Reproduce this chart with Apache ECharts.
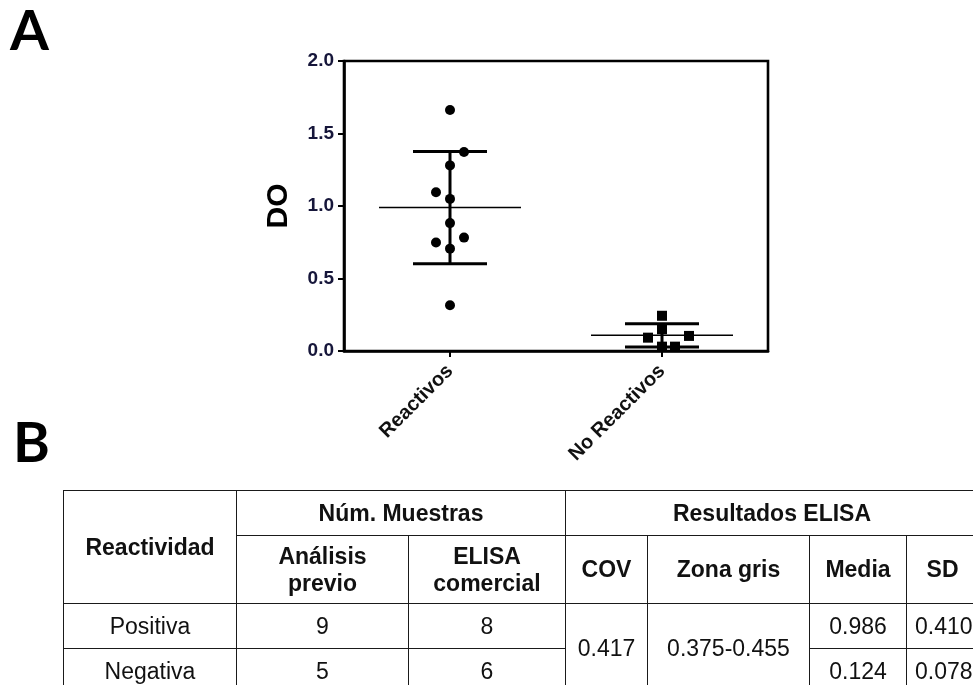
<!DOCTYPE html>
<html>
<head>
<meta charset="utf-8">
<script src="https://cdn.jsdelivr.net/npm/echarts@6/dist/echarts.min.js"></script>
<style>
  html, body { margin: 0; padding: 0; background: #fff; overflow: hidden; }
  #wrap { position: relative; width: 973px; height: 685px; overflow: hidden; }
  #chart { position: absolute; left: 0; top: 0; width: 973px; height: 685px; }
  #tbl {
    position: absolute; left: 63px; top: 490px; width: 915px;
    border-collapse: collapse; table-layout: fixed;
    font-family: "Liberation Sans", Arial, sans-serif; font-size: 23px; color: #111;
  }
  #tbl td, #tbl th {
    border: 1.6px solid #1a1a1a; text-align: center; vertical-align: middle;
    padding: 0; line-height: 1.15; white-space: nowrap; overflow: hidden;
  }
  #tbl th { font-weight: bold; }
</style>
</head>
<body>
<div id="wrap">
  <div id="chart"></div>
  <table id="tbl"></table>
</div>
<script>
// Optical density (DO) per sample group
const categories = ['Reactivos', 'No Reactivos'];
const reactivosDO = [1.662, 1.373, 1.280, 1.095, 1.049, 0.882, 0.782, 0.748, 0.706, 0.315];
const noReactivosDO = [0.243, 0.150, 0.092, 0.104, 0.030, 0.030];

// Horizontal spread (px) so overlapping dots stay visible
const reactivosSpread = [0, 14, 0, -14, 0, 0, 14, -14, 0, 0];
const noReactivosSpread = [0, 0, -14, 27, 0, 13];

// Y axis ticks
const yMin = 0, yMax = 2, yStep = 0.5;

// Summary table
const tableGroups = ['Positiva', 'Negativa'];
const muestrasPrevio = [9, 5];
const muestrasComercial = [8, 6];
const covValue = '0.417';
const zonaGris = '0.375-0.455';
const mediaValues = ['0.986', '0.124'];
const sdValues = ['0.410', '0.078'];

function mean(a) { return a.reduce((s, v) => s + v, 0) / a.length; }
function sd(a) {
  const m = mean(a);
  return Math.sqrt(a.reduce((s, v) => s + (v - m) * (v - m), 0) / (a.length - 1));
}

const groups = [reactivosDO, noReactivosDO];
const stats = groups.map((g, i) => [i, mean(g), sd(g)]);

const chart = echarts.init(document.getElementById('chart'));
const fontFam = '"Liberation Sans", Arial, sans-serif';

chart.setOption({
  animation: false,
  backgroundColor: '#fff',
  grid: {
    left: 344, top: 61, right: 205, bottom: 334,
    show: true, borderColor: '#000', borderWidth: 2.6, backgroundColor: 'transparent'
  },
  xAxis: {
    type: 'category',
    data: categories,
    boundaryGap: true,
    axisLine: { lineStyle: { color: '#000', width: 2.6 } },
    axisTick: { show: true, alignWithLabel: true, length: 6, lineStyle: { color: '#000', width: 2 } },
    axisLabel: {
      rotate: 45, margin: 17, interval: 0,
      fontFamily: fontFam, fontWeight: 'bold', fontSize: 20, color: '#111'
    },
    splitLine: { show: false }
  },
  yAxis: {
    type: 'value',
    min: yMin, max: yMax, interval: yStep,
    name: 'DO',
    nameLocation: 'middle',
    nameRotate: 90,
    nameGap: 50,
    nameTextStyle: { fontFamily: fontFam, fontWeight: 'bold', fontSize: 30, color: '#000' },
    axisLine: { show: true, lineStyle: { color: '#000', width: 2.6 } },
    axisTick: { show: true, length: 6, lineStyle: { color: '#000', width: 2 } },
    axisLabel: {
      margin: 10, formatter: v => v.toFixed(1),
      fontFamily: fontFam, fontWeight: 'bold', fontSize: 19, color: '#16163a'
    },
    splitLine: { show: false }
  },
  graphic: [
    { type: 'text', left: 10, top: 4, style: { text: 'A', font: 'bold 56px Lato, "Open Sans", sans-serif', fill: '#000' } },
    { type: 'text', left: 13, top: 416, style: { text: 'B', font: 'bold 56px Lato, "Open Sans", sans-serif', fill: '#000' } }
  ],
  series: [
    {
      type: 'custom',
      clip: false,
      encode: { x: 0, y: 1 },
      data: stats,
      renderItem: function (params, api) {
        const x = api.value(0), m = api.value(1), s = api.value(2);
        const c = api.coord([x, m]);
        const hi = api.coord([x, m + s]);
        const lo = api.coord([x, m - s]);
        const thick = { stroke: '#000', lineWidth: 3 };
        return {
          type: 'group',
          children: [
            { type: 'line', shape: { x1: c[0] - 71, y1: c[1], x2: c[0] + 71, y2: c[1] }, style: { stroke: '#000', lineWidth: 1.6 } },
            { type: 'line', shape: { x1: c[0], y1: hi[1], x2: c[0], y2: lo[1] }, style: thick },
            { type: 'line', shape: { x1: c[0] - 37, y1: hi[1], x2: c[0] + 37, y2: hi[1] }, style: thick },
            { type: 'line', shape: { x1: c[0] - 37, y1: lo[1], x2: c[0] + 37, y2: lo[1] }, style: thick }
          ]
        };
      },
      z: 2
    },
    {
      type: 'scatter',
      symbol: 'circle',
      symbolSize: 10,
      itemStyle: { color: '#000', opacity: 1 },
      data: reactivosDO.map((v, i) => ({ value: [0, v], symbolOffset: [reactivosSpread[i], 0] })),
      z: 3
    },
    {
      type: 'scatter',
      symbol: 'rect',
      symbolSize: 10,
      itemStyle: { color: '#000', opacity: 1 },
      data: noReactivosDO.map((v, i) => ({ value: [1, v], symbolOffset: [noReactivosSpread[i], 0] })),
      z: 3
    }
  ]
});

// Table B
const colWidths = [173, 172, 157, 82, 162, 97, 72];
const rowHeights = [45, 68, 45, 45];
const tbl = document.getElementById('tbl');
let html = '<colgroup>' + colWidths.map(w => '<col style="width:' + w + 'px">').join('') + '</colgroup>';
html += '<tr style="height:' + rowHeights[0] + 'px">' +
  '<th rowspan="2">Reactividad</th>' +
  '<th colspan="2">Núm. Muestras</th>' +
  '<th colspan="4">Resultados ELISA</th></tr>';
html += '<tr style="height:' + rowHeights[1] + 'px">' +
  '<th>Análisis<br>previo</th><th>ELISA<br>comercial</th>' +
  '<th>COV</th><th>Zona gris</th><th>Media</th><th>SD</th></tr>';
tableGroups.forEach((g, i) => {
  html += '<tr style="height:' + rowHeights[2 + i] + 'px">' +
    '<td>' + g + '</td><td>' + muestrasPrevio[i] + '</td><td>' + muestrasComercial[i] + '</td>' +
    (i === 0 ? '<td rowspan="2">' + covValue + '</td><td rowspan="2">' + zonaGris + '</td>' : '') +
    '<td>' + mediaValues[i] + '</td><td style="text-align:left;padding-left:8px">' + sdValues[i] + '</td></tr>';
});
tbl.innerHTML = html;
</script>
</body>
</html>
